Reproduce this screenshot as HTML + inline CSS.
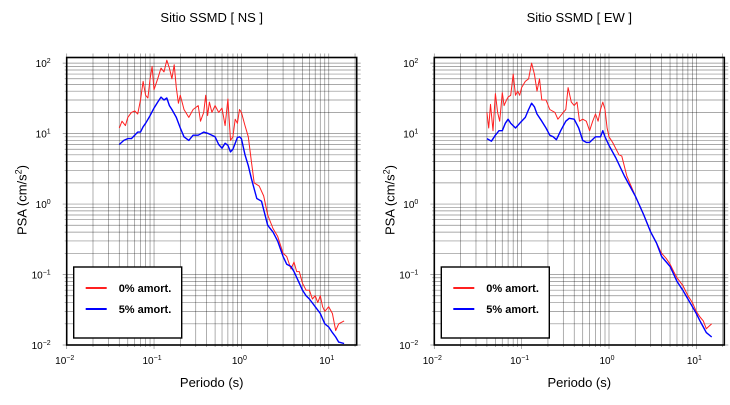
<!DOCTYPE html>
<html><head><meta charset="utf-8"><style>
body{margin:0;background:#fff;width:730px;height:400px;overflow:hidden;font-family:"Liberation Sans",sans-serif}
</style></head><body>
<svg id="s" width="730" height="400" xmlns="http://www.w3.org/2000/svg" font-family="Liberation Sans, sans-serif"></svg>
<script>
const nsRedT=[0.04,0.043,0.047,0.05,0.055,0.06,0.065,0.07,0.075,0.08,0.085,0.09,0.095,0.1,0.11,0.12,0.13,0.14,0.15,0.16,0.17,0.18,0.19,0.2,0.22,0.25,0.28,0.32,0.34,0.37,0.39,0.41,0.43,0.46,0.5,0.55,0.6,0.65,0.7,0.75,0.8,0.85,0.9,0.95,1.0,1.1,1.2,1.3,1.4,1.6,1.8,2.0,2.3,2.6,3.0,3.3,3.7,4.0,4.3,4.6,5.0,5.5,6.0,6.5,7.0,7.5,8,8.5,9,10,11,12,13,15];
const nsRedV=[12,15,13,17,20,21,19,30,55,35,32,60,90,42,60,85,75,110,85,60,95,45,27,35,22,17,22,25,15,20,35,18,28,20,25,20,23,13,31,8,9,16,14,22,20,13,9,4,2,1.8,1.3,0.7,0.45,0.35,0.2,0.18,0.12,0.15,0.11,0.11,0.075,0.06,0.06,0.045,0.05,0.04,0.05,0.035,0.03,0.035,0.028,0.016,0.02,0.022];
const nsBlueT=[0.04,0.045,0.05,0.055,0.06,0.065,0.07,0.075,0.08,0.09,0.1,0.11,0.12,0.13,0.14,0.15,0.16,0.18,0.2,0.22,0.25,0.28,0.32,0.37,0.42,0.5,0.55,0.6,0.65,0.7,0.75,0.8,0.9,0.95,1.0,1.1,1.2,1.3,1.5,1.7,2.0,2.3,2.6,3.0,3.3,3.7,4.0,4.5,5,5.5,6,7,8,9,10,11,12,13,15];
const nsBlueV=[7,8,8.5,8.5,9.5,10.5,10.5,12.5,14,18,23,28,33,30,32,25,22,17,12,9,8,9.5,9.5,10.5,10,9,7,6.2,7.3,6.8,5.5,6,8.8,9,8.5,5,3.5,2.3,1.2,1.1,0.5,0.4,0.3,0.18,0.14,0.13,0.11,0.08,0.06,0.05,0.045,0.035,0.028,0.02,0.018,0.015,0.013,0.011,0.0105];
const ewRedT=[0.04,0.042,0.044,0.047,0.05,0.053,0.056,0.06,0.063,0.067,0.07,0.075,0.08,0.085,0.09,0.095,0.1,0.11,0.12,0.13,0.14,0.15,0.16,0.17,0.19,0.21,0.24,0.26,0.3,0.32,0.34,0.37,0.4,0.43,0.46,0.5,0.55,0.6,0.65,0.7,0.75,0.8,0.85,0.9,0.95,1.0,1.1,1.3,1.4,1.6,2,2.5,3,3.5,4,4.5,5,5.5,6,7,8,9,10,11,12,13,15];
const ewRedV=[20,12,26,11,37,20,15,38,25,30,33,35,70,35,40,35,45,55,60,100,70,40,60,30,30,22,20,16,20,22,45,28,25,28,15,16,15,11,15,19,15,22,28,22,12,9,7.5,5,4.8,2.5,1.3,0.7,0.4,0.28,0.2,0.17,0.14,0.11,0.09,0.07,0.05,0.04,0.03,0.025,0.022,0.017,0.02];
const ewBlueT=[0.04,0.045,0.05,0.055,0.06,0.065,0.07,0.075,0.085,0.1,0.11,0.12,0.13,0.14,0.15,0.17,0.19,0.21,0.23,0.25,0.28,0.32,0.35,0.4,0.45,0.5,0.55,0.6,0.7,0.8,0.85,0.9,1,1.2,1.5,2,2.5,3,3.5,4,5,6,7,8,9,10,11,12,13,15];
const ewBlueV=[8.5,7.8,9.5,11,11,14,16,14,12,15,17,22,27,24,19,15,12,9.5,9,8.2,11,15,16.5,16,12,8,7.5,7.5,9,9,11,9,6.8,4.5,2.5,1.3,0.7,0.4,0.28,0.18,0.13,0.08,0.06,0.045,0.035,0.028,0.022,0.018,0.015,0.013];
const xTickLabels=["-2","-1","0","1"];
const yTickLabels=["-2","-1","0","1","2"];

const NS="http://www.w3.org/2000/svg";
const svg=document.getElementById('s');
function mk(tag,attrs,parent){const e=document.createElementNS(NS,tag);for(const k in attrs)e.setAttribute(k,attrs[k]);(parent||svg).appendChild(e);return e;}

function panel(key,x0,title,rT,rV,bT,bV){
  const top=57.5,bot=345,right=x0+290;
  const xmin=-2,xmax=1.32,ymin=-2,ymax=2.08;
  const sx=v=>x0+(Math.log10(v)-xmin)/(xmax-xmin)*(right-x0);
  const sy=v=>bot-(Math.log10(v)-ymin)/(ymax-ymin)*(bot-top);
  const g=mk('g',{});
  
  
  const grid=mk('g',{stroke:'#000','stroke-opacity':'0.45','stroke-width':'0.7'},g);
  
  
  for(let d=-2;d<=1;d++)for(let m=1;m<=9;m++){const v=m*Math.pow(10,d);if(Math.log10(v)>xmax)continue;const x=sx(v);mk('line',{x1:x,x2:x,y1:top-4,y2:bot+(m==1?4:2)},grid);}
  for(let d=-2;d<=2;d++)for(let m=1;m<=9;m++){const v=m*Math.pow(10,d);if(Math.log10(v)>ymax)continue;const y=sy(v);mk('line',{x1:x0-(m==1?4:2),x2:right+4,y1:y,y2:y},grid);}
  const fr=mk('rect',{x:x0,y:top,width:right-x0,height:bot-top,fill:'none',stroke:'#000','stroke-width':'1.6'},g);
  
  
  xTickLabels.forEach(l=>{const x=sx(Math.pow(10,+l));const t=mk('text',{x:x-2,y:bot+19,'font-size':'10','text-anchor':'middle',fill:'#000'},g);t.textContent='10';const s=mk('tspan',{dy:'-4','font-size':'7'},t);s.textContent=l.replace('-','\u2212');
    });
  yTickLabels.forEach(l=>{const y=sy(Math.pow(10,+l));const t=mk('text',{x:x0-16,y:y+4,'font-size':'10','text-anchor':'end',fill:'#000'},g);t.textContent='10';const s=mk('tspan',{dy:'-4','font-size':'7'},t);s.textContent=l.replace('-','\u2212');
    });
  const line=(T,V,col,w,name)=>{const p=mk('polyline',{points:T.map((t,i)=>sx(t).toFixed(1)+','+sy(V[i]).toFixed(1)).join(' '),fill:'none',stroke:col,'stroke-width':w,'stroke-linejoin':'round'},g);
    };
  line(rT,rV,'#ff2020','1',key+'-red-0pct-line');
  line(bT,bV,'#0000ff','1.4',key+'-blue-5pct-line');
  const tt=mk('text',{x:(x0+right)/2,y:22,'font-size':'13','text-anchor':'middle'},g);tt.textContent=title;
  
  const xt=mk('text',{x:(x0+right)/2,y:387,'font-size':'13','text-anchor':'middle'},g);xt.textContent='Periodo (s)';
  
  const yt=mk('text',{transform:`translate(${x0-40},200) rotate(-90)`,'font-size':'13','text-anchor':'middle'},g);yt.textContent='PSA (cm/s';
  const sp=mk('tspan',{dy:'-5','font-size':'9'},yt);sp.textContent='2';const sp2=mk('tspan',{dy:'5'},yt);sp2.textContent=')';
  
  const lg=mk('g',{},g);
  const lx=x0+7;
  mk('rect',{x:lx,y:267,width:108,height:71,fill:'#fff',stroke:'#000','stroke-width':'1.4'},lg);
  [['0% amort.','#ff2020',292],['5% amort.','#0000ff',313]].forEach(([l,c,y])=>{
    const e=mk('g',{},lg);
    mk('line',{x1:lx+12,x2:lx+33,y1:y-4,y2:y-4,stroke:c,'stroke-width':'2'},e);
    const t=mk('text',{x:lx+45,y:y,'font-size':'11','font-weight':'bold'},e);t.textContent=l;});
}
panel('ns',66.7,'Sitio SSMD [ NS ]',nsRedT,nsRedV,nsBlueT,nsBlueV);
panel('ew',434.3,'Sitio SSMD [ EW ]',ewRedT,ewRedV,ewBlueT,ewBlueV);
</script>
</body></html>
